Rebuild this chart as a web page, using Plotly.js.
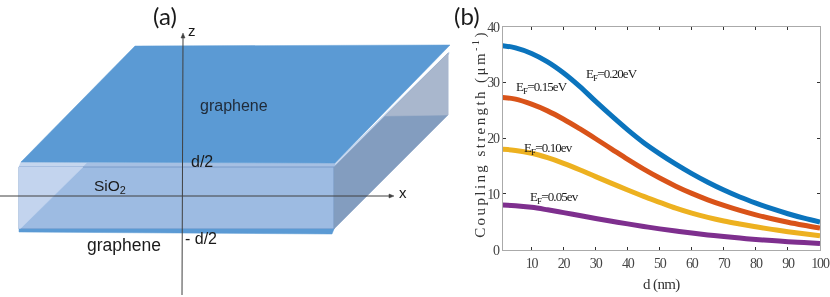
<!DOCTYPE html>
<html><head><meta charset="utf-8">
<script src="https://cdn.plot.ly/plotly-3.0.1.min.js"></script>
<style>html,body{margin:0;padding:0;background:#fff}#c{width:830px;height:297px;filter:blur(0.35px)}
.xtick text,.ytick text{letter-spacing:-1.2px}
.xtitle{letter-spacing:-0.6px}
.annotation[data-index="9"] text,.annotation[data-index="10"] text,.annotation[data-index="11"] text,.annotation[data-index="12"] text{letter-spacing:-0.9px}
.annotation[data-index="13"] text{letter-spacing:2.4px}
</style>
</head><body><div id="c"></div>
<script>
// chart data
const dValues=[1,5,10,15,20,25,30,35,40,45,50,55,60,65,70,75,80,85,90,95,100];
const ef020=[36.6,36.2,35.2,33.7,31.7,29.3,26.6,24,21.5,19.2,17.2,15.35,13.65,12.1,10.7,9.45,8.35,7.35,6.45,5.65,4.95];
const ef015=[27.3,27,26.1,24.9,23.4,21.7,19.9,18.05,16.2,14.45,12.85,11.4,10.1,8.95,7.95,7.05,6.25,5.55,4.93,4.38,3.88];
const ef010=[18,17.8,17.3,16.5,15.5,14.35,13.1,11.9,10.7,9.55,8.5,7.45,6.55,5.8,5.15,4.6,4.1,3.65,3.23,2.85,2.5];
const ef005=[8,7.9,7.6,7.15,6.65,6.13,5.61,5.11,4.63,4.17,3.74,3.34,2.98,2.65,2.35,2.08,1.84,1.63,1.44,1.27,1.1];
const seriesColors=['#0b74bd','#d95319','#edb120','#7e2f8e'];
const xTicks=[10,20,30,40,50,60,70,80,90,100];
const yTicks=[0,10,20,30,40];

// schematic, in page pixels on a hidden second axis pair
const topSheet=[[135,46],[450,45],[335,163],[21,162]];
const topEdge=[[21,162],[335,163],[449,52],[449,54],[335,167],[19,167]];
const topEdgeFront=[[87,163],[335,163],[335,167],[83,167]];
const frontFace=[[19,167],[334,167],[334,229],[19,229]];
const frontLight=[[19,167],[83,167],[20,229],[19,229]];
const rightFace=[[334,167],[448,53],[448,115],[334,229]];
const rightLight=[[385,116],[448,115],[448,53]];
const bottomSheet=[[19,229],[334,229],[332,234],[19,232]];
const axisX=[[0,196],[391,196]];
const axisZ=[[182,295],[183,38]];
const arrowX=[[389,194],[394,196],[389,198]];
const arrowZ=[[181,38],[183,33],[185,38]];

const path=p=>'M'+p.map(a=>a.join(',')).join('L')+'Z';
const poly=(p,fill,lc,lw)=>({type:'path',xref:'x2',yref:'y2',path:path(p),fillcolor:fill,line:{color:lc||fill,width:lw===undefined?0.5:lw},layer:'below'});
const seg=p=>({type:'line',xref:'x2',yref:'y2',x0:p[0][0],y0:p[0][1],x1:p[1][0],y1:p[1][1],line:{color:'#404040',width:1},layer:'below'});
const shapes=[
 poly(topEdge,'#c5d6ee','#b8cde8'),
 poly(topEdgeFront,'#a6c0e3'),
 poly(frontFace,'#9dbbe2','#7a9bc8',1),
 poly(frontLight,'#c3d4ee'),
 poly(rightFace,'#839dbf','#7e9cc2',0.5),
 poly(rightLight,'#a9b7cd'),
 poly(topSheet,'#5b9ad4'),
 poly(bottomSheet,'#5b9ad4'),
 seg(axisX),seg(axisZ),
 poly(arrowX,'#404040'),poly(arrowZ,'#404040')
];
const sans='"Liberation Sans",Arial,sans-serif', serif='"Liberation Serif",serif';
const lab=(t,x,y,s,f,c)=>({text:t,xref:'x2',yref:'y2',x:x,y:y,showarrow:false,font:{family:f||sans,size:s,color:c||'#1a1a1a'},xanchor:'center',yanchor:'middle'});
const annotations=[
 lab('(a)',165,15,24,'Lato'),lab('(b)',467,15,24,'Lato'),
 lab('z',192,30,15),lab('x',403,192,15),
 lab('graphene',234,105,16,sans,'#1f2a38'),lab('graphene',124,245,17.5),
 lab('d/2',202,161,16),lab('- d/2',201,238,16),
 lab('SiO<sub>2</sub>',110,186,15.5),
 lab('E<sub>F</sub>=0.20eV',611,74,13,serif),
 lab('E<sub>F</sub>=0.15eV',541,87,13,serif),
 lab('E<sub>F</sub>=0.10ev',548,148,13,serif),
 lab('E<sub>F</sub>=0.05ev',554,197,13,serif),
 Object.assign(lab('Coupling strength (μm<sup>-1</sup>)',479,134,15,serif,'#333'),{textangle:-90})
];
const traces=[ef020,ef015,ef010,ef005].map((v,i)=>({x:dValues,y:v,type:'scatter',mode:'lines',line:{color:seriesColors[i],width:5,shape:'spline',smoothing:1},hoverinfo:'skip',cliponaxis:false}));
traces.push({x:[],y:[],xaxis:'x2',yaxis:'y2',type:'scatter',mode:'lines',hoverinfo:'skip'});
const layout={
 width:830,height:297,margin:{l:0,r:0,t:0,b:0},paper_bgcolor:'#fff',plot_bgcolor:'rgba(0,0,0,0)',showlegend:false,
 xaxis:{domain:[502.7/830,820/830],range:[1,100],tickvals:xTicks,ticks:'inside',ticklen:3,tickwidth:1,tickcolor:'#333',mirror:'ticks',showline:true,linecolor:'#aaa',linewidth:1,showgrid:false,zeroline:false,
  tickfont:{family:serif,size:14,color:'#444'},title:{text:'d (nm)',font:{family:serif,size:15,color:'#333'},standoff:8},anchor:'y'},
 yaxis:{domain:[1-249.7/297,1-26.7/297],range:[0,40],tickvals:yTicks,ticks:'inside',ticklen:3,tickwidth:1,tickcolor:'#333',mirror:'ticks',showline:true,linecolor:'#aaa',linewidth:1,showgrid:false,zeroline:false,
  tickfont:{family:serif,size:14,color:'#444'},anchor:'x'},
 xaxis2:{domain:[0,1],range:[0,830],visible:false,fixedrange:true,anchor:'y2'},
 yaxis2:{domain:[0,1],range:[297,0],visible:false,fixedrange:true,anchor:'x2'},
 shapes:shapes,annotations:annotations
};
Plotly.newPlot('c',traces,layout,{displayModeBar:false,staticPlot:true});
</script></body></html>
